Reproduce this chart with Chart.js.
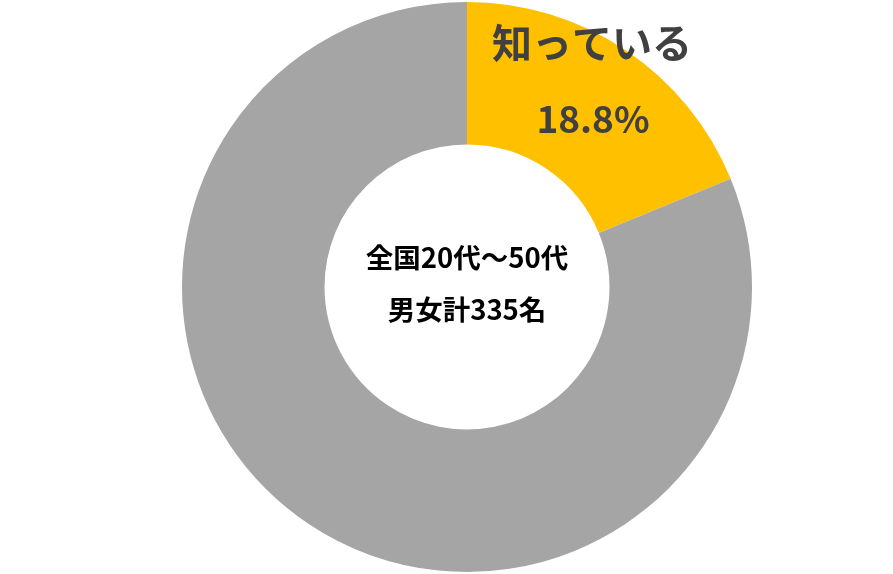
<!DOCTYPE html>
<html><head><meta charset="utf-8">
<style>html,body{margin:0;padding:0;background:#fff;}#wrap{width:893px;height:574px;}</style>
<script src="https://cdn.jsdelivr.net/npm/chart.js@4"></script>
</head><body><div id="wrap"><canvas id="c" width="893" height="574"></canvas></div>
<script>
const categories = ["知っている", "知らない"];
const values = [18.8, 81.2];
const colors = ["#FFC000", "#A5A5A5"];
const centerLines = ["全国20代～50代", "男女計335名"];
const labelText = "知っている";
const pctText = values[0].toFixed(1) + "%";

const FONT = '"Noto Sans CJK JP","Noto Sans",sans-serif';

const textPlugin = {
  id: 'texts',
  afterDraw(chart) {
    const ctx = chart.ctx;
    const meta = chart.getDatasetMeta(0);
    const arc = meta.data[0];
    const cx = arc.x, cy = arc.y;
    ctx.save();
    ctx.textAlign = 'center';
    ctx.textBaseline = 'middle';
    ctx.fillStyle = '#000';
    ctx.font = 'bold 27.5px ' + FONT;
    ctx.fillText(centerLines[0], cx, cy - 29);
    ctx.fillText(centerLines[1], cx, cy + 23);
    ctx.fillStyle = '#404040';
    ctx.font = 'bold 40px ' + FONT;
    ctx.fillText(labelText, cx + 125, cy - 244);
    ctx.font = 'bold 37px ' + FONT;
    ctx.fillText(pctText, cx + 126, cy - 168);
    ctx.restore();
  }
};

new Chart(document.getElementById('c'), {
  type: 'doughnut',
  data: {
    labels: categories,
    datasets: [{ data: values, backgroundColor: colors, borderWidth: 0 }]
  },
  options: {
    responsive: false,
    animation: false,
    cutout: '50%',
    layout: { padding: { top: 2, bottom: 2, left: 41, right: 0 } },
    plugins: { legend: { display: false }, tooltip: { enabled: false } }
  },
  plugins: [textPlugin]
});
</script></body></html>
